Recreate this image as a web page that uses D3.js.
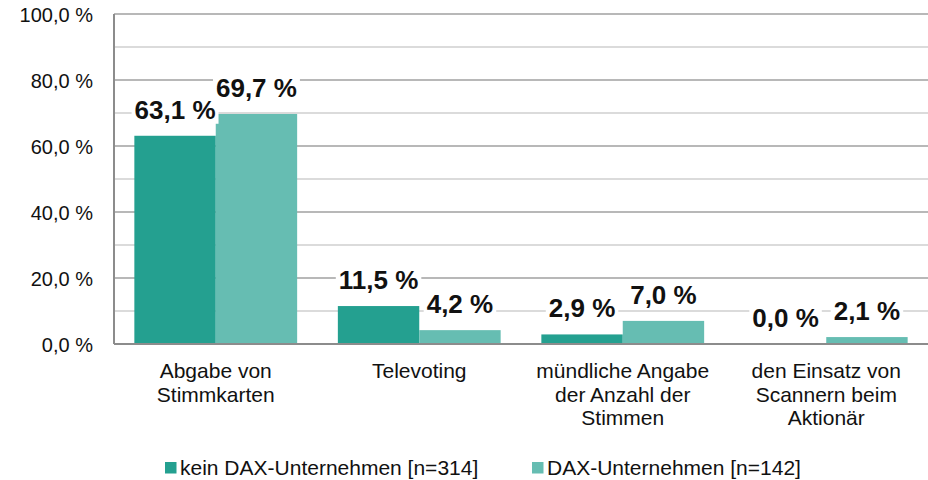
<!DOCTYPE html>
<html><head><meta charset="utf-8">
<script src="https://cdn.jsdelivr.net/npm/d3@7"></script>
<style>body{margin:0;background:#fff}svg{display:block;font-family:"Liberation Sans",Arial,sans-serif}</style>
</head><body>
<svg id="c" width="928" height="480"></svg>
<script>
const categories = [
  ["Abgabe von","Stimmkarten"],
  ["Televoting"],
  ["mündliche Angabe","der Anzahl der","Stimmen"],
  ["den Einsatz von","Scannern beim","Aktionär"]
];
const seriesNames = ["kein DAX-Unternehmen [n=314]","DAX-Unternehmen [n=142]"];
const keinDAX = [63.1, 11.5, 2.9, 0.0];
const DAX = [69.7, 4.2, 7.0, 2.1];
const yTicks = [0,10,20,30,40,50,60,70,80,90,100];
const colors = ["#24a090","#66bdb2"];

const svg = d3.select("#c");
const pL = 114, pR = 928, pT = 14, pB = 344;
const y = d3.scaleLinear().domain([0,100]).range([pB, pT]);
const catIdx = categories.map((d,i)=>i);
const x = d3.scaleBand().domain(catIdx).range([pL,pR]).paddingInner(0.2).paddingOuter(0.1);
const xs = d3.scaleBand().domain([0,1]).range([0, x.bandwidth()]);
const fmt = v => v.toFixed(1).replace(".",",") + " %";

// gridlines
svg.append("g").selectAll("line").data(yTicks.filter(t=>t>0)).join("line")
  .attr("x1",pL).attr("x2",pR)
  .attr("y1",d=>y(d)).attr("y2",d=>y(d))
  .attr("stroke",d=> d%20===0 ? "#a0a0a0" : "#cfcfcf").attr("stroke-width",1.5);

// y axis labels
const yAxis = d3.axisLeft(y).tickValues(yTicks.filter(t=>t%20===0)).tickSize(0).tickPadding(21)
  .tickFormat(fmt);
const ga = svg.append("g").attr("transform",`translate(${pL},0)`).call(yAxis);
ga.select(".domain").remove();
ga.selectAll("text").attr("font-size",20).attr("fill","#111").attr("font-family","Liberation Sans, Arial, sans-serif").attr("dy","0.36em");

// bars
const series = [keinDAX, DAX];
series.forEach((vals,si)=>{
  svg.append("g").selectAll("rect").data(vals).join("rect")
    .attr("x",(d,i)=>x(i)+xs(si)).attr("width",xs.bandwidth())
    .attr("y",d=>y(d)).attr("height",d=>pB-y(d))
    .attr("fill",colors[si]);
});

// axes lines
svg.append("line").attr("x1",pL).attr("x2",pL).attr("y1",pT).attr("y2",pB).attr("stroke","#8c8c8c").attr("stroke-width",2);
svg.append("line").attr("x1",pL).attr("x2",pR).attr("y1",pB).attr("y2",pB).attr("stroke","#8c8c8c").attr("stroke-width",2);

// value labels with white backgrounds
series.forEach((vals,si)=>{
  vals.forEach((v,i)=>{
    const cx = x(i)+xs(si)+xs.bandwidth()/2;
    const by = y(v)-17;
    const g = svg.append("g");
    const t = g.append("text").attr("x",cx).attr("y",by).attr("text-anchor","middle")
      .attr("font-size",26).attr("font-weight","bold").attr("fill","#111").text(fmt(v));
    const bb = t.node().getBBox();
    g.insert("rect","text").attr("x",bb.x-3).attr("y",bb.y+1).attr("width",bb.width+6).attr("height",bb.height-2).attr("fill","#fff");
  });
});

// category labels
const xAxis = svg.append("g");
categories.forEach((lines,i)=>{
  const t = xAxis.append("text").attr("x",x(i)+x.bandwidth()/2).attr("y",378)
    .attr("text-anchor","middle").attr("font-size",21).attr("fill","#111");
  lines.forEach((l,k)=>t.append("tspan").attr("x",x(i)+x.bandwidth()/2).attr("dy",k===0?0:23.5).text(l));
});

// legend
const legX = [165, 532];
seriesNames.forEach((n,i)=>{
  svg.append("rect").attr("x",legX[i]).attr("y",462).attr("width",11.5).attr("height",11.5).attr("fill",colors[i]);
  svg.append("text").attr("x",legX[i]+15).attr("y",475).attr("font-size",21).attr("fill","#111").text(n);
});
</script>
</body></html>
